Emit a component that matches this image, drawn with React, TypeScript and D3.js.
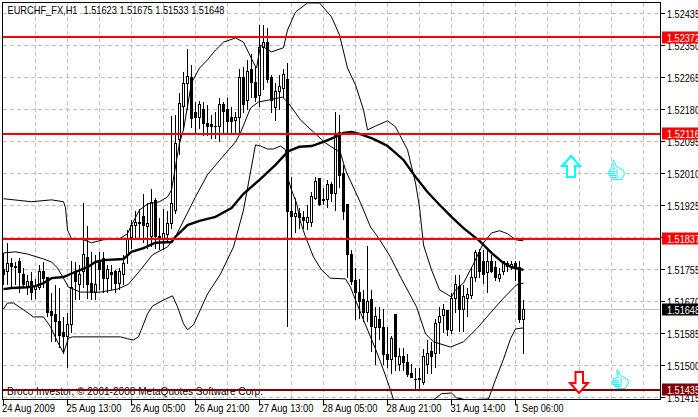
import React from "react";
import * as d3 from "d3";

const opens = [151754,151749,151772,151764,151775,151743,151711,151724,151703,151708,151749,151735,151643,151635,151618,151587,151576,151608,151749,151714,151749,151786,151719,151695,151780,151783,151732,151746,151751,151719,151743,151794,151839,151873,151881,151895,151870,151842,151937,151842,151834,151847,151876,151913,152099,152189,152248,152264,152171,152158,152181,152144,152139,152136,152136,152192,152181,152160,152150,152158,152264,152205,152285,152251,152216,152346,152357,152264,152184,152227,152237,152261,151908,151895,151905,151892,151881,151881,151943,151996,151940,151940,151980,151958,152118,152011,151927,151796,151727,151695,151674,151640,151674,151600,151621,151600,151528,151517,151635,151502,151525,151509,151480,151464,151466,151454,151502,151536,151533,151613,151632,151645,151592,151679,151711,151648,151679,151685,151735,151799,151775,151746,151775,151759,151732,151749,151772,151761,151772,151759,151623];
const highs = [151799,151826,151786,151775,151788,151761,151741,151749,151732,151767,151775,151735,151693,151714,151706,151629,151640,151780,151775,151767,151932,151873,151802,151794,151802,151802,151767,151767,151754,151761,151796,151860,151887,151913,151918,151956,151932,151969,151945,151892,151916,151913,152163,152166,152224,152280,152341,152299,152200,152203,152200,152192,152166,152174,152213,152200,152211,152187,152174,152290,152293,152312,152330,152293,152405,152407,152397,152272,152251,152272,152290,152306,152001,151945,151921,151913,151927,151961,152001,151996,151974,151993,151988,152174,152166,152033,151927,151807,151761,151732,151701,151820,151701,151656,151656,151651,151603,151581,151637,151549,151549,151531,151504,151496,151496,151546,151568,151563,151626,151656,151666,151650,151693,151741,151741,151714,151708,151761,151807,151810,151807,151807,151794,151780,151761,151780,151780,151780,151780,151780,151675];
const lows = [151714,151714,151708,151714,151693,151706,151688,151674,151679,151701,151708,151629,151563,151563,151549,151533,151496,151587,151674,151674,151708,151679,151674,151674,151701,151695,151695,151701,151695,151701,151716,151770,151810,151834,151834,151826,151812,151815,151812,151807,151807,151826,151865,151905,152060,152126,152179,152131,152120,152129,152112,152112,152102,152102,152094,152120,152118,152120,152120,152118,152171,152179,152213,152200,152187,152232,152253,152171,152152,152179,152211,151603,151834,151852,151865,151865,151860,151868,151940,151924,151927,151921,151935,151913,151972,151887,151735,151714,151621,151626,151616,151616,151536,151502,151568,151502,151496,151480,151488,151488,151488,151472,151467,151438,151438,151449,151480,151480,151496,151531,151587,151579,151584,151640,151589,151589,151629,151679,151722,151735,151719,151695,151746,151727,151724,151741,151749,151754,151727,151613,151533];
const closes = [151743,151772,151764,151761,151746,151714,151724,151693,151711,151749,151732,151640,151632,151616,151581,151576,151608,151706,151722,151741,151794,151716,151693,151714,151754,151732,151754,151743,151719,151751,151770,151834,151873,151881,151878,151873,151878,151932,151842,151834,151850,151878,151929,152089,152195,152248,152267,152155,152160,152192,152144,152134,152136,152134,152192,152174,152147,152147,152160,152264,152192,152280,152251,152211,152346,152357,152259,152203,152227,152240,152274,151908,151895,151903,151892,151884,151892,151948,151988,151927,151937,151980,151958,152112,152006,151908,151794,151724,151693,151671,151640,151671,151603,151629,151600,151528,151515,151573,151523,151523,151507,151475,151469,151462,151462,151523,151533,151523,151611,151629,151648,151595,151679,151716,151648,151682,151688,151735,151799,151749,151743,151775,151751,151735,151743,151775,151764,151767,151759,151621,151648];

const maBars = [0,2,6,8,10,12,15,18,21,23,25,30,32,35,38,42,43,46,49,53,57,60,64,68,71,72,74,77,80,83,85,87,89,92,94,96,98,100,103,106,109,112,115,119,122,125,127,128,130];
const maValues = [151703,151706,151708,151711,151719,151732,151735,151749,151761,151775,151780,151783,151802,151812,151826,151828,151842,151873,151884,151895,151918,151956,151993,152033,152067,152073,152081,152083,152094,152107,152118,152120,152115,152104,152094,152083,152065,152046,152001,151961,151927,151895,151865,151831,151799,151772,151761,151759,151754];

const upperBars = [0,7,12,15,15.5,16,17,20,22,25,29,31,32,34,36,39,41,42,44,45,47,49,51,53,55,58,60,62.5,63.25,64.25,67,70,71,73,76,79,82,84,86,88,90,91,93,96,98,101,103,104,105,107,109,112,113,115,117.5,120,122,124,126,128,130];
const upperValues = [151943,151935,151940,151935,151919,151860,151837,151834,151826,151834,151837,151850,151873,151913,151929,151935,151948,151966,152091,152126,152251,152290,152312,152338,152359,152370,152359,152304,152290,152351,152333,152344,152391,152439,152463,152463,152426,152378,152290,152245,152179,152126,152136,152150,152134,152073,151985,151921,151820,151754,151701,151682,151701,151719,151770,151826,151852,151858,151850,151834,151831];

const middleBars = [0,3,6,10,12,13.5,15,16.25,19.25,24.25,28.5,31.25,34.25,37.25,41,43,48,51,54.75,58,59.25,61.75,63.75,66.25,69.75,71.25,74.25,77.5,80.5,84.25,85.5,89.25,91.75,93.75,96.75,99.25,103.25,105.5,107.5,111.75,115,118.5,121.75,125,128.25,130];
const middleValues = [151799,151802,151796,151783,151775,151759,151732,151708,151695,151695,151703,151716,151754,151794,151815,151842,151948,152007,152054,152094,152118,152184,152200,152205,152213,152197,152152,152120,152091,152065,152019,151932,151868,151839,151788,151735,151656,151584,151563,151549,151563,151600,151640,151679,151714,151719];

const lowerBars = [0,1,2.5,5,7.5,10,11.75,13.5,15,16.25,17.25,29.25,31,32.5,33.75,36,37.25,40,42.25,43.5,45,46,47.5,51,54.25,57.5,60,63,64.25,66,67.5,69.25,70.5,71,72,73.25,74.25,75.5,77.5,79.5,81.75,85.5,86.75,88,90,91.75,93,95,96.75,97.5,100,104.25,107.5,109.5,112,113.25,115.75,121.25,123,125,126.75,128,130];
const lowerValues = [151650,151666,151666,151648,151629,151629,151603,151563,151533,151573,151576,151576,151571,151568,151576,151637,151658,151674,151685,151656,151611,151595,151608,151690,151743,151815,151913,152086,152083,152075,152075,152083,152073,152001,151966,151932,151881,151842,151788,151754,151732,151730,151708,151674,151621,151576,151544,151488,151435,151409,151377,151377,151409,151425,151427,151414,151409,151411,151462,151517,151571,151597,151600];

const priceTicks = [152435,152350,152265,152180,152095,152010,151925,151840,151755,151670,151585,151500,151415];
const timeTickBars = [0,16,32,48,64,80,96,112,128];
const timeLabels = ["24 Aug 2009","25 Aug 13:00","26 Aug 05:00","26 Aug 21:00","27 Aug 13:00","28 Aug 05:00","28 Aug 21:00","31 Aug 14:00","1 Sep 06:00"];
const redLevels = [152372,152116,151837];
const darkLevel = 151435;
const lastPrice = 151648;
const titleSymbol = "EURCHF_FX,H1";
const titleQuote = "1.51623 1.51675 1.51533 1.51648";
const copyright = "Broco Investor, \u00a9 2001-2008 MetaQuotes Software Corp.";

const fmt = (p: number) => (p / 100000).toFixed(5);
const FONT = "'Liberation Sans', Arial, sans-serif";

function Thumb({ x, y }: { x: number; y: number }) {
  return (
    <g transform={`translate(${x},${y})`} fill="#fff" stroke="#00ffff" strokeWidth={1}>
      <path d="M5.5,0.5 L8.5,6.5 L15.5,10.5 L16.5,14 L13.5,19.5 L5,19.5 L0.5,14.5 L1.5,9.5 L6.5,8.5 L4.5,2.5 Z" />
      <path d="M1,11.5 H7 M1,13.5 H7 M2,15.5 H8 M3,17.5 H8 M9,9 V18" fill="none" />
    </g>
  );
}

export default function App() {
  const x = d3.scaleLinear().domain([0, 130]).range([3.5, 523.5]);
  const y = d3.scaleLinear().domain([152435, 151415]).range([13.5, 397.5]);
  const crisp = (v: number) => Math.round(y(v) - 0.5) + 0.5;
  const line = d3.line<[number, number]>().x((d) => x(d[0])).y((d) => y(d[1])).curve(d3.curveLinear);
  const path = (bars: number[], vals: number[]) =>
    line(bars.map((b, i) => [b, vals[i]] as [number, number])) as string;
  const L = 2.5, R = 660.5, T = 2.5, B = 399.5;
  const vgrid = d3.range(0, 21).map((k) => 3.5 + 32 * k).filter((v) => v > 5 && v < R);
  const tag = (p: number, bg: string) => {
    const cy = crisp(p);
    return (
      <g key={p}>
        <rect x={662} y={cy - 6} width={36} height={12} fill={bg} />
        <text x={667} y={cy + 4} fontSize={10.5} fill="#fff" fontFamily={FONT} textLength={33} lengthAdjust="spacingAndGlyphs">{fmt(p)}</text>
      </g>
    );
  };
  return (
    <svg width={698} height={417} style={{ position: "fixed", left: 0, top: 0, background: "#fff" }}>
      <defs>
        <clipPath id="plot"><rect x={L} y={T} width={R - L} height={B - T} /></clipPath>
      </defs>
      <g stroke="#c0c0c0" strokeDasharray="4,3" shapeRendering="crispEdges">
        {priceTicks.map((p) => <line key={p} x1={L} x2={R} y1={crisp(p)} y2={crisp(p)} />)}
        {vgrid.map((v) => <line key={v} x1={v} x2={v} y1={T} y2={B} />)}
      </g>
      <line x1={L} x2={R} y1={crisp(lastPrice)} y2={crisp(lastPrice)} stroke="#c0c0c0" shapeRendering="crispEdges" />
      <g clipPath="url(#plot)">
        <g shapeRendering="crispEdges">
          {opens.map((o, i) => {
            const c = closes[i];
            const xc = x(i);
            const top = crisp(Math.max(o, c));
            const bot = crisp(Math.min(o, c));
            const bull = c >= o;
            return (
              <g key={i}>
                <line x1={xc} x2={xc} y1={crisp(highs[i])} y2={crisp(lows[i])} stroke="#000" />
                <rect x={xc - 1} y={top} width={2} height={Math.max(bot - top, 0.01)} fill={bull ? "#fff" : "#000"} stroke="#000" />
              </g>
            );
          })}
        </g>
        <g fill="none" stroke="#000" strokeWidth={1}>
          <path d={path(upperBars, upperValues)} />
          <path d={path(middleBars, middleValues)} />
          <path d={path(lowerBars, lowerValues)} />
        </g>
        <path d={path(maBars, maValues)} fill="none" stroke="#000" strokeWidth={2.4} />
      </g>
      <text x={7} y={395} fontSize={10.5} fill="#000" fontFamily={FONT} textLength={256} lengthAdjust="spacingAndGlyphs">{copyright}</text>
      <g shapeRendering="crispEdges" strokeWidth={2}>
        {redLevels.map((p) => <line key={p} x1={L} x2={R} y1={Math.round(y(p))} y2={Math.round(y(p))} stroke="#ff0000" />)}
        <line x1={L} x2={R} y1={Math.round(y(darkLevel))} y2={Math.round(y(darkLevel))} stroke="#800000" />
      </g>
      <rect x={L} y={T} width={R - L} height={B - T} fill="none" stroke="#000" shapeRendering="crispEdges" />
      <text x={7.5} y={14} fontSize={10.5} fontFamily={FONT} fill="#000" textLength={70} lengthAdjust="spacingAndGlyphs">{titleSymbol}</text>
      <text x={83.5} y={14} fontSize={10.5} fontFamily={FONT} fill="#000" textLength={141} lengthAdjust="spacingAndGlyphs">{titleQuote}</text>
      <g shapeRendering="crispEdges" stroke="#000">
        {priceTicks.map((p) => <line key={p} x1={R} x2={R + 4} y1={crisp(p)} y2={crisp(p)} />)}
        {timeTickBars.map((b) => <line key={b} x1={x(b)} x2={x(b)} y1={B} y2={B + 5} />)}
      </g>
      {priceTicks.map((p) => (
        <text key={p} x={667} y={crisp(p) + 4} fontSize={10.5} fontFamily={FONT} fill="#000" textLength={33} lengthAdjust="spacingAndGlyphs">{fmt(p)}</text>
      ))}
      {timeTickBars.map((b, i) => (
        <text key={b} x={i === 0 ? 2 : x(b) - 1} y={412} fontSize={10.5} fontFamily={FONT} fill="#000" textLength={i === 0 ? 53 : i === 8 ? 49 : 55} lengthAdjust="spacingAndGlyphs">{timeLabels[i]}</text>
      ))}
      {redLevels.map((p) => tag(p, "#ff0000"))}
      {tag(lastPrice, "#000000")}
      {tag(darkLevel, "#800000")}
      <path d="M571,156 L580,166 L575,166 L575,177 L567,177 L567,166 L562,166 Z" fill="#fff" stroke="#00ffff" strokeWidth={2} />
      <path d="M575.5,372 L583,372 L583,383 L588,383 L579,393 L570,383 L575.5,383 Z" fill="#fff" stroke="#ff0000" strokeWidth={2} />
      <Thumb x={608} y={160} />
      <Thumb x={612} y={369} />
    </svg>
  );
}
